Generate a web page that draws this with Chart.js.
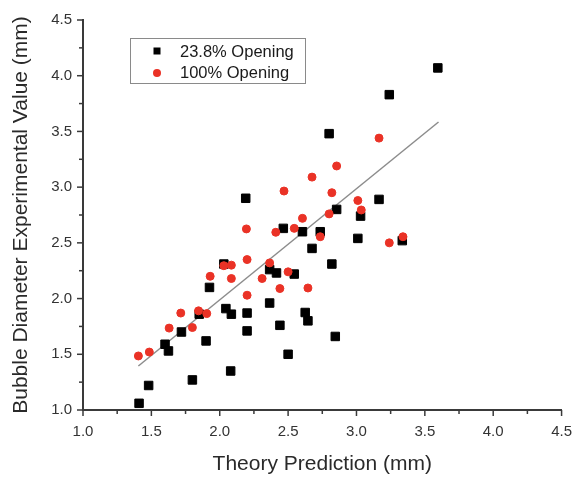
<!DOCTYPE html>
<html>
<head>
<meta charset="utf-8">
<script src="https://cdn.jsdelivr.net/npm/chart.js@4.4.1/dist/chart.umd.min.js"></script>
<style>
  html, body { margin: 0; padding: 0; background: #fff; }
  #wrap { width: 585px; height: 477px; }
</style>
</head>
<body>
<div id="wrap"><canvas id="bubbleChart" width="585" height="477"></canvas></div>
<script>
// 23.8% opening (black squares)
const smallX = [1.41, 1.48, 1.60, 1.625, 1.72, 1.80, 1.85, 1.90, 1.925, 2.03, 2.045, 2.085, 2.08,
  2.19, 2.20, 2.20, 2.365, 2.365, 2.415, 2.44, 2.465, 2.50, 2.545, 2.605, 2.625, 2.645, 2.675,
  2.735, 2.80, 2.82, 2.855, 2.845, 3.01, 3.03, 3.165, 3.24, 3.335, 3.595]
const smallY = [1.06, 1.22, 1.59, 1.53, 1.70, 1.27, 1.86, 1.62, 2.10, 2.31, 1.91, 1.86, 1.35,
  2.90, 1.87, 1.71, 1.96, 2.26, 2.23, 1.76, 2.63, 1.50, 2.22, 2.60, 1.875, 1.80, 2.45,
  2.60, 3.48, 2.31, 2.80, 1.66, 2.54, 2.74, 2.89, 3.83, 2.52, 4.07]

// 100% opening (red circles)
const fullX = [1.405, 1.485, 1.63, 1.715, 1.80, 1.845, 1.905, 1.93, 2.03, 2.085, 2.085, 2.195,
  2.20, 2.20, 2.31, 2.365, 2.41, 2.44, 2.47, 2.50, 2.545, 2.605, 2.645, 2.675, 2.735, 2.80,
  2.82, 2.855, 3.01, 3.035, 3.165, 3.24, 3.34]
const fullY = [1.485, 1.52, 1.735, 1.87, 1.74, 1.89, 1.865, 2.20, 2.295, 2.30, 2.18, 2.625,
  2.35, 2.03, 2.18, 2.32, 2.595, 2.09, 2.965, 2.24, 2.63, 2.72, 2.095, 3.09, 2.555, 2.76,
  2.95, 3.19, 2.88, 2.795, 3.44, 2.50, 2.555]

// fitted line
const fitX = [1.405, 3.6]
const fitY = [1.395, 3.585]

const legendLabels = ['23.8% Opening', '100% Opening']
const xTickValues = [1.0, 1.5, 2.0, 2.5, 3.0, 3.5, 4.0, 4.5]

const toPoints = (xs, ys) => xs.map((x, i) => ({ x, y: ys[i] }))

const FONT = 'Liberation Sans, Arial, sans-serif'
const RED = 'rgb(234, 50, 38)'
const AXIS = '#3a3a3a'

// minor / major tick marks pointing outward
const tickMarks = {
  id: 'tickMarks',
  afterDraw(chart) {
    const { ctx, scales } = chart
    const xs = scales.x
    const ys = scales.y
    ctx.save()
    ctx.strokeStyle = AXIS
    ctx.lineWidth = 1.5
    for (let v = 1; v <= 4.5001; v += 0.25) {
      const major = Math.abs(v * 2 - Math.round(v * 2)) < 0.001
      const len = major ? 6 : 4
      const px = xs.getPixelForValue(v)
      ctx.beginPath()
      ctx.moveTo(px, xs.top)
      ctx.lineTo(px, xs.top + len)
      ctx.stroke()
      const py = ys.getPixelForValue(v)
      ctx.beginPath()
      ctx.moveTo(ys.right, py)
      ctx.lineTo(ys.right - len, py)
      ctx.stroke()
    }
    ctx.restore()
  },
}

// legend box in the top-left of the plot
const boxLegend = {
  id: 'boxLegend',
  afterDraw(chart) {
    const { ctx } = chart
    ctx.save()
    ctx.strokeStyle = '#8a8a8a'
    ctx.lineWidth = 1
    ctx.strokeRect(130.5, 38.5, 175, 45)

    ctx.fillStyle = '#000'
    ctx.fillRect(153.5, 47.5, 7, 7)
    ctx.fillStyle = RED
    ctx.beginPath()
    ctx.arc(157, 73, 4, 0, Math.PI * 2)
    ctx.fill()

    ctx.fillStyle = '#1a1a1a'
    ctx.font = '16.5px ' + FONT
    ctx.textBaseline = 'middle'
    ctx.fillText(legendLabels[0], 180, 52)
    ctx.fillText(legendLabels[1], 180, 73)
    ctx.restore()
  },
}

const ctx = document.getElementById('bubbleChart').getContext('2d')

new Chart(ctx, {
  type: 'scatter',
  data: {
    datasets: [
      {
        label: legendLabels[1],
        data: toPoints(fullX, fullY),
        pointStyle: 'circle',
        pointRadius: 4,
        pointBorderWidth: 1,
        backgroundColor: RED,
        borderColor: RED,
        order: 0,
      },
      {
        label: legendLabels[0],
        data: toPoints(smallX, smallY),
        pointStyle: 'rect',
        pointRadius: 6,
        pointBorderWidth: 1,
        backgroundColor: '#000',
        borderColor: '#000',
        order: 1,
      },
      {
        type: 'line',
        label: 'fit',
        data: toPoints(fitX, fitY),
        borderColor: '#8c8c8c',
        borderWidth: 1.5,
        pointRadius: 0,
        fill: false,
        order: 2,
      },
    ],
  },
  options: {
    responsive: false,
    animation: false,
    layout: { padding: { top: 18, right: 19, left: 0, bottom: 0 } },
    plugins: {
      legend: { display: false },
      tooltip: { enabled: false },
    },
    scales: {
      x: {
        type: 'linear',
        min: 1,
        max: 4.5,
        afterFit(scale) {
          scale.height = 67
        },
        afterBuildTicks(scale) {
          scale.ticks = xTickValues.map((v) => ({ value: v }))
        },
        grid: { display: false, drawTicks: false },
        border: { display: true, color: AXIS, width: 2 },
        ticks: {
          padding: 13,
          color: '#333',
          font: { family: FONT, size: 15 },
          callback: (v) => Number(v).toFixed(1),
        },
        title: {
          display: true,
          text: 'Theory Prediction (mm)',
          color: '#2a2a2a',
          font: { family: FONT, size: 21 },
          padding: { top: 0, bottom: 0 },
        },
      },
      y: {
        type: 'linear',
        min: 1,
        max: 4.5,
        afterFit(scale) {
          scale.width = 83
        },
        afterBuildTicks(scale) {
          scale.ticks = xTickValues.map((v) => ({ value: v }))
        },
        grid: { display: false, drawTicks: false },
        border: { display: true, color: AXIS, width: 2 },
        ticks: {
          padding: 11,
          color: '#333',
          font: { family: FONT, size: 15 },
          callback: (v) => Number(v).toFixed(1),
        },
        title: {
          display: true,
          text: 'Bubble Diameter Experimental Value (mm)',
          color: '#2a2a2a',
          font: { family: FONT, size: 21 },
          padding: { top: 9, bottom: 0 },
        },
      },
    },
  },
  plugins: [tickMarks, boxLegend],
})
</script>
</body>
</html>
